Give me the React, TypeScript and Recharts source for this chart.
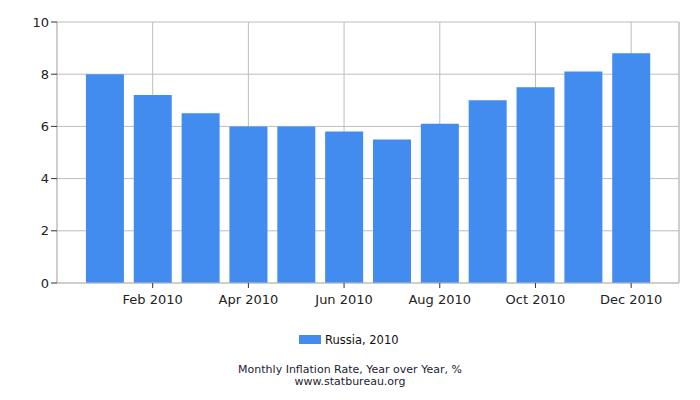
import React from 'react';
import { BarChart, Bar, XAxis, YAxis, CartesianGrid, ReferenceLine } from 'recharts';

const months = ['Jan', 'Feb', 'Mar', 'Apr', 'May', 'Jun', 'Jul', 'Aug', 'Sep', 'Oct', 'Nov', 'Dec'];
const values = [8.0, 7.2, 6.5, 6.0, 6.0, 5.8, 5.5, 6.1, 7.0, 7.5, 8.1, 8.8];
const xTicks = [1, 3, 5, 7, 9, 11];
const xTickLabels = ['Feb 2010', 'Apr 2010', 'Jun 2010', 'Aug 2010', 'Oct 2010', 'Dec 2010'];
const yTicks = [0, 2, 4, 6, 8, 10];
const seriesName = 'Russia, 2010';
const titleLines = ['Monthly Inflation Rate, Year over Year, %', 'www.statbureau.org'];

const data = months.map((m, i) => ({ m: i, name: m, value: values[i] }));

const FONT = '"DejaVu Sans", Verdana, sans-serif';
const BAR = '#428BEF';
const GRID = '#BDBDBD';

export default function App() {
  return (
    <div style={{ position: 'absolute', left: 0, top: 0, width: 700, height: 400, background: '#fff' }}>
      <BarChart
        width={700}
        height={400}
        data={data}
        margin={{ top: 22, right: 21, left: 7, bottom: 0 }}
      >
        <CartesianGrid stroke={GRID} strokeWidth={1} />
        <XAxis
          dataKey="m"
          type="number"
          domain={[-1, 12]}
          ticks={xTicks}
          tickFormatter={(v: number) => xTickLabels[xTicks.indexOf(v)] ?? ''}
          height={117}
          tickSize={5}
          tickMargin={7}
          axisLine={{ stroke: GRID }}
          tickLine={{ stroke: '#333' }}
          tick={{ fill: '#222', fontSize: 13, fontFamily: FONT }}
          interval={0}
        />
        <YAxis
          type="number"
          domain={[0, 10]}
          ticks={yTicks}
          width={50}
          tickSize={6}
          tickMargin={2}
          axisLine={{ stroke: GRID }}
          tickLine={{ stroke: '#333' }}
          tick={{ fill: '#222', fontSize: 13, fontFamily: FONT }}
          interval={0}
        />
        <ReferenceLine x={12} stroke={GRID} />
        <Bar dataKey="value" name={seriesName} fill={BAR} barSize={38} isAnimationActive={false} />
      </BarChart>
      <div style={{ position: 'absolute', left: 299, top: 335, width: 22, height: 9, background: BAR }} />
      <div style={{ position: 'absolute', left: 325, top: 332, fontFamily: FONT, fontSize: 11.5, lineHeight: '16px', color: '#111', whiteSpace: 'nowrap' }}>
        {seriesName}
      </div>
      {titleLines.map((t, i) => (
        <div
          key={t}
          style={{
            position: 'absolute',
            left: 0,
            top: 364 + i * 12,
            width: 700,
            height: 12,
            textAlign: 'center',
            fontFamily: FONT,
            fontSize: 11,
            lineHeight: '12px',
            color: '#1c1c30',
            whiteSpace: 'nowrap',
          }}
        >
          {t}
        </div>
      ))}
    </div>
  );
}
